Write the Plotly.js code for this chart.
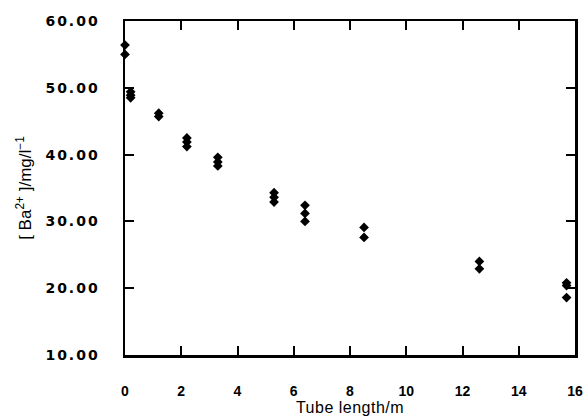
<!DOCTYPE html>
<html>
<head>
<meta charset="utf-8">
<script src="https://cdn.plot.ly/plotly-3.0.1.min.js"></script>
<style>
html,body{margin:0;padding:0;background:#fff;}
#chart .ytick text{letter-spacing:2px;}
#chart .g-xtitle text{letter-spacing:0.5px;}
</style>
</head>
<body>
<div id="chart" style="width:588px;height:418px;"></div>
<script>
var tubeLength = [0, 0, 0.2, 0.2, 0.2, 1.2, 1.2, 2.2, 2.2, 2.2, 3.3, 3.3, 3.3, 5.3, 5.3, 5.3, 6.4, 6.4, 6.4, 8.5, 8.5, 12.6, 12.6, 15.7, 15.7, 15.7];
var bariumConc = [56.4, 55.0, 49.4, 48.9, 48.5, 46.2, 45.7, 42.5, 41.9, 41.2, 39.6, 38.9, 38.3, 34.3, 33.6, 32.9, 32.4, 31.2, 30.0, 29.1, 27.6, 24.0, 22.9, 20.8, 20.4, 18.6];
var xTicks = [0, 2, 4, 6, 8, 10, 12, 14, 16];
var yTicks = [10, 20, 30, 40, 50, 60];

var trace = {
  x: tubeLength,
  y: bariumConc,
  type: 'scatter',
  mode: 'markers',
  marker: {symbol: 'diamond', size: 7.5, color: '#000'},
  cliponaxis: false,
  hoverinfo: 'skip'
};

var xTickFont = {family: 'Liberation Sans, Arial, sans-serif', size: 14, color: '#000', weight: 'bold'};
var yTickFont = {family: 'DejaVu Sans, sans-serif', size: 14, color: '#000', weight: 'bold'};
var xTitleFont = {family: 'Liberation Sans, Arial, sans-serif', size: 16, color: '#000'};
var yTitleFont = {family: 'Liberation Sans, Arial, sans-serif', size: 17, color: '#000'};

var layout = {
  width: 588,
  height: 418,
  margin: {l: 125, r: 13, t: 21, b: 63},
  paper_bgcolor: '#fff',
  plot_bgcolor: '#fff',
  showlegend: false,
  xaxis: {
    range: [0, 16],
    tickvals: xTicks,
    ticktext: xTicks.map(String),
    ticks: 'inside',
    ticklen: 9,
    tickwidth: 2,
    tickcolor: '#000',
    showline: true,
    linewidth: 2.5,
    linecolor: '#000',
    mirror: 'allticks',
    showgrid: false,
    zeroline: false,
    tickfont: xTickFont,
    ticklabelstandoff: 22,
    title: {text: 'Tube length/m', font: xTitleFont, standoff: 2}
  },
  yaxis: {
    range: [10, 60],
    tickvals: yTicks,
    ticktext: yTicks.map(function(v){return v.toFixed(2);}),
    ticks: 'inside',
    ticklen: 9,
    tickwidth: 2,
    tickcolor: '#000',
    showline: true,
    linewidth: 2.5,
    linecolor: '#000',
    mirror: 'allticks',
    showgrid: false,
    zeroline: false,
    tickfont: yTickFont,
    ticklabelstandoff: 20,
    title: {text: '[ Ba<sup>2+</sup> ]/mg/l<sup>\u22121</sup>', font: yTitleFont, standoff: 20}
  }
};

Plotly.newPlot('chart', [trace], layout, {displayModeBar: false, staticPlot: true});
</script>
</body>
</html>
